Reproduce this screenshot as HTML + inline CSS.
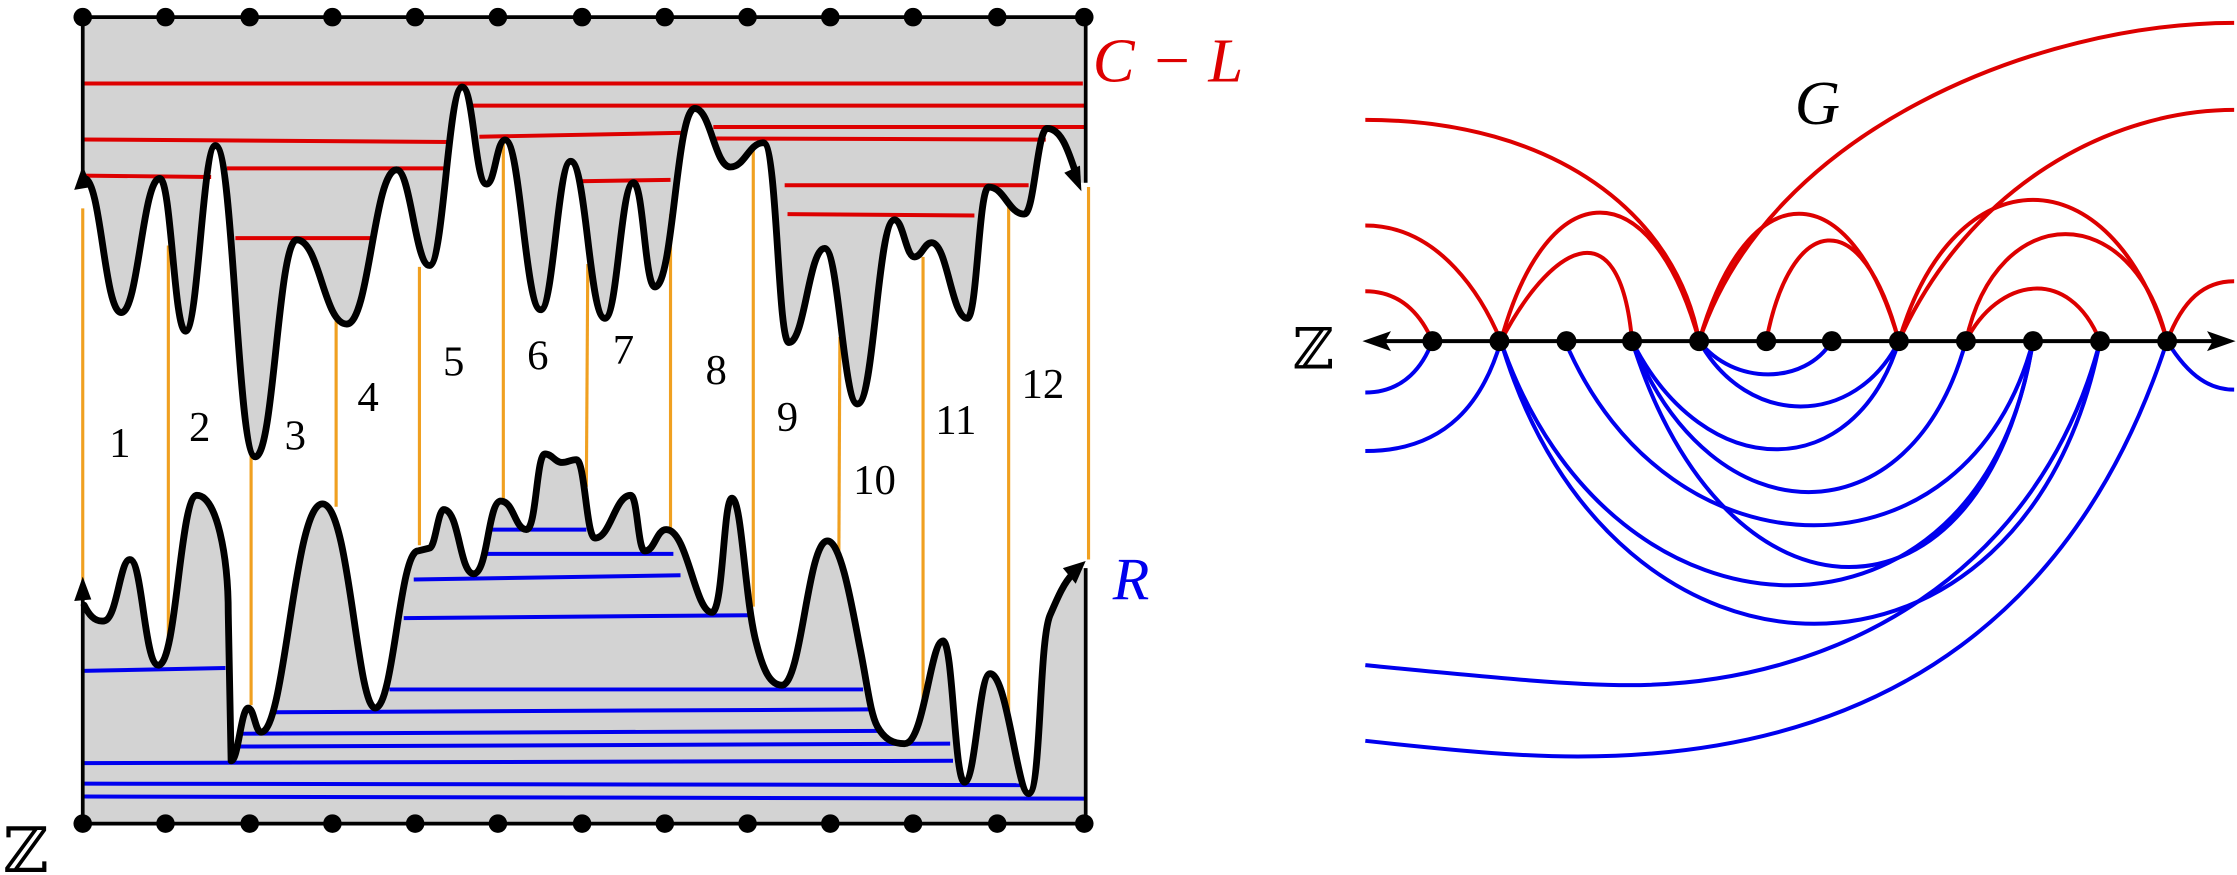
<!DOCTYPE html>
<html><head><meta charset="utf-8"><style>html,body{margin:0;padding:0;background:#fff;}svg{display:block}</style></head>
<body>
<svg width="2237" height="875" viewBox="0 0 1568 613" preserveAspectRatio="none" xmlns="http://www.w3.org/2000/svg">
<g fill="#d3d3d3" stroke="none">
<path d="M59,125 C71,125 73,219 85,219 C97,219 100,125 112,125 C120,125 122,232 130,232 C139,232 142,102 151,102 C164,102 166,320 179,320 C192,320 195,168 208,168 C224,168 227,227 243,227 C259,227 262,119 278,119 C288,119 291,186 301,186 C311,186 314,61 324,61 C332,61 333,129 341,129 C347,129 348,98 354,98 C365,98 368,217 379,217 C388,217 391,113 400,113 C411,113 413,223 424,223 C433,223 435,128 444,128 C451,128 452,201 459,201 C472,201 474,76 487,76 C498,76 501,117 512,117 C522,117 525,100 535,100 C545,100 545,240 553,240 C564,240 567,174 578,174 C588,174 591,283 601,283 C613,283 615,154 627,154 C633,154 635,180 641,180 C646,180 648,170 653,170 C664,170 667,223 678,223 C685,223 686,131 693,131 C704,131 707,150 718,150 C725,150 727,90 734,90 C745,90 750,110 757,128 L761,128 L761,12 L58,12 L58,125 Z"/>
<path d="M58,418 C62,430 66,436 73,435 C82,434 84,392 91,392 C100,392 101,466 111,466 C124,466 126,347 138,347 C152,347 160,390 160,430 L162,533 C167,533 169,496 174,496 C178,496 179,513 183,513 C200,513 206,353 226,353 C245,353 250,496 263,496 C276,496 280,386 293,386 L301,384 C305,384 307,357 311,357 C322,357 322,402 332,402 C342,402 342,351 351,351 C360,351 361,371 369,371 C376,371 376,318 382,318 C387,318 389,324 394,324 C398,324 400,322 404,322 C410,322 411,377 417,377 C428,377 431,347 442,347 C447,347 447,386 452,386 C459,386 460,371 467,371 C482,371 487,429 499,429 C507,429 507,349 513,349 C520,349 522,420 530,450 C535,470 540,480 548,480 C562,480 566,379 580,379 C590,379 598,430 603,455 C608,480 610,500 615,509 C620,518 626,521 634,521 C648,521 652,449 661,449 C668,449 669,548 676,548 C684,548 686,472 694,472 C706,472 713,556 721,556 C730,556 728,450 736,431 C742,417 748,405 757,398 L761,398 L761,577 L58,577 Z"/>
</g>
<g stroke="#dd0000" stroke-width="2.8" fill="none">
<line x1="58" y1="58.5" x2="759" y2="58.5"/>
<line x1="331" y1="74" x2="761" y2="74"/>
<line x1="500" y1="89" x2="761" y2="89"/>
<line x1="58" y1="97.7" x2="315" y2="99.5"/>
<line x1="336" y1="95.8" x2="480" y2="93"/>
<line x1="502" y1="97" x2="733" y2="97.8"/>
<line x1="58" y1="123" x2="148" y2="124"/>
<line x1="159" y1="118" x2="311" y2="118"/>
<line x1="406" y1="127" x2="470" y2="126"/>
<line x1="550" y1="129.8" x2="721" y2="129.8"/>
<line x1="165" y1="166.8" x2="263" y2="166.8"/>
<line x1="552" y1="150" x2="683" y2="151"/>
</g>
<g stroke="#0000ee" stroke-width="2.8" fill="none">
<line x1="58" y1="470" x2="158" y2="468"/>
<line x1="345" y1="371" x2="411" y2="371"/>
<line x1="340" y1="388" x2="472" y2="388"/>
<line x1="290" y1="406" x2="477" y2="403"/>
<line x1="283" y1="433" x2="525" y2="431"/>
<line x1="273" y1="483" x2="605" y2="483"/>
<line x1="193" y1="499" x2="611" y2="497"/>
<line x1="170" y1="514" x2="619" y2="512"/>
<line x1="168" y1="523" x2="666" y2="521"/>
<line x1="58" y1="534.6" x2="668" y2="533"/>
<line x1="58" y1="549" x2="716" y2="550"/>
<line x1="58" y1="558" x2="761" y2="559.5"/>
</g>
<g stroke="#f0a020" stroke-width="2.2">
<line x1="58" y1="146" x2="58" y2="408"/>
<line x1="118" y1="172" x2="118" y2="458"/>
<line x1="176" y1="318" x2="176" y2="494"/>
<line x1="235.6" y1="224" x2="235.6" y2="355"/>
<line x1="294" y1="187" x2="294" y2="382"/>
<line x1="352.8" y1="98" x2="352.8" y2="351"/>
<line x1="412" y1="185" x2="411" y2="341"/>
<line x1="470" y1="150" x2="470" y2="371"/>
<line x1="528" y1="105" x2="528" y2="425"/>
<line x1="588.7" y1="236" x2="588" y2="388"/>
<line x1="647" y1="180" x2="647" y2="494"/>
<line x1="707" y1="143" x2="707" y2="501"/>
<line x1="763" y1="131" x2="763" y2="392"/>
</g>
<g stroke="#000" stroke-width="2.6">
<line x1="58" y1="12" x2="761" y2="12"/>
<line x1="58" y1="577" x2="761" y2="577"/>
<line x1="58" y1="12" x2="58" y2="125"/>
<line x1="58" y1="418" x2="58" y2="577"/>
<line x1="761" y1="12" x2="761" y2="128"/>
<line x1="761" y1="398" x2="761" y2="577"/>
</g>
<g stroke="#000" stroke-width="4.8" fill="none" stroke-linecap="round" stroke-linejoin="round">
<path d="M59,125 C71,125 73,219 85,219 C97,219 100,125 112,125 C120,125 122,232 130,232 C139,232 142,102 151,102 C164,102 166,320 179,320 C192,320 195,168 208,168 C224,168 227,227 243,227 C259,227 262,119 278,119 C288,119 291,186 301,186 C311,186 314,61 324,61 C332,61 333,129 341,129 C347,129 348,98 354,98 C365,98 368,217 379,217 C388,217 391,113 400,113 C411,113 413,223 424,223 C433,223 435,128 444,128 C451,128 452,201 459,201 C472,201 474,76 487,76 C498,76 501,117 512,117 C522,117 525,100 535,100 C545,100 545,240 553,240 C564,240 567,174 578,174 C588,174 591,283 601,283 C613,283 615,154 627,154 C633,154 635,180 641,180 C646,180 648,170 653,170 C664,170 667,223 678,223 C685,223 686,131 693,131 C704,131 707,150 718,150 C725,150 727,90 734,90 C745,90 750,110 755,124"/>
<path d="M59,424 C62,430 66,436 73,435 C82,434 84,392 91,392 C100,392 101,466 111,466 C124,466 126,347 138,347 C152,347 160,390 160,430 L162,533 C167,533 169,496 174,496 C178,496 179,513 183,513 C200,513 206,353 226,353 C245,353 250,496 263,496 C276,496 280,386 293,386 L301,384 C305,384 307,357 311,357 C322,357 322,402 332,402 C342,402 342,351 351,351 C360,351 361,371 369,371 C376,371 376,318 382,318 C387,318 389,324 394,324 C398,324 400,322 404,322 C410,322 411,377 417,377 C428,377 431,347 442,347 C447,347 447,386 452,386 C459,386 460,371 467,371 C482,371 487,429 499,429 C507,429 507,349 513,349 C520,349 522,420 530,450 C535,470 540,480 548,480 C562,480 566,379 580,379 C590,379 598,430 603,455 C608,480 610,500 615,509 C620,518 626,521 634,521 C648,521 652,449 661,449 C668,449 669,548 676,548 C684,548 686,472 694,472 C706,472 713,556 721,556 C730,556 728,450 736,431 C742,417 746,408 752,402"/>
</g>
<g fill="#000">
<polygon points="58,116 52,133 64,131"/>
<polygon points="758,134 746,121 757,116"/>
<polygon points="58,404 52,421 64,420"/>
<polygon points="761,393 745,398 754,409"/>
<g>
<circle cx="58" cy="12" r="6.5"/><circle cx="116" cy="12" r="6.5"/><circle cx="175" cy="12" r="6.5"/><circle cx="233" cy="12" r="6.5"/><circle cx="291" cy="12" r="6.5"/><circle cx="349" cy="12" r="6.5"/><circle cx="408" cy="12" r="6.5"/><circle cx="466" cy="12" r="6.5"/><circle cx="524" cy="12" r="6.5"/><circle cx="582" cy="12" r="6.5"/><circle cx="640" cy="12" r="6.5"/><circle cx="699" cy="12" r="6.5"/><circle cx="760" cy="12" r="6.5"/>
<circle cx="58" cy="577" r="6.5"/><circle cx="116" cy="577" r="6.5"/><circle cx="175" cy="577" r="6.5"/><circle cx="233" cy="577" r="6.5"/><circle cx="291" cy="577" r="6.5"/><circle cx="349" cy="577" r="6.5"/><circle cx="408" cy="577" r="6.5"/><circle cx="466" cy="577" r="6.5"/><circle cx="524" cy="577" r="6.5"/><circle cx="582" cy="577" r="6.5"/><circle cx="640" cy="577" r="6.5"/><circle cx="699" cy="577" r="6.5"/><circle cx="760" cy="577" r="6.5"/>
</g>
</g>
<g font-family="Liberation Serif, serif" font-size="30" fill="#000" text-anchor="middle">
<text x="84" y="320">1</text><text x="140" y="309">2</text><text x="207" y="315">3</text><text x="258" y="288">4</text><text x="318" y="263">5</text><text x="377" y="259">6</text><text x="437" y="255">7</text><text x="502" y="269">8</text><text x="552" y="302">9</text><text x="613" y="346">10</text><text x="670" y="304">11</text><text x="731" y="279">12</text>
</g>
<text x="766" y="57" font-family="Liberation Serif, serif" font-style="italic" font-size="44" fill="#dd0000">C − L</text>
<text x="780" y="420" font-family="Liberation Serif, serif" font-style="italic" font-size="42" fill="#0000ee">R</text>
<text x="2" y="611" font-family="DejaVu Serif, serif" font-size="44" fill="#000">ℤ</text>

<g fill="none" stroke="#dd0000" stroke-width="2.8">
<path d="M957,84 C1090,84 1175,150 1191,239"/>
<path d="M1191,239 C1240,90 1430,16 1566,16"/>
<path d="M1331,239 C1380,130 1480,77 1566,77"/>
<path d="M957,158 C1010,158 1040,210 1052,239"/>
<path d="M957,204 C985,204 998,225 1004,239"/>
<path d="M1052,239 C1085,119 1158,119 1191,239"/>
<path d="M1052,239 C1085,175 1135,140 1144,239"/>
<path d="M1191,239 C1225,120 1297,120 1331,239"/>
<path d="M1238,239 C1255,150 1305,140 1331,239"/>
<path d="M1331,239 C1370,107 1480,107 1519,239"/>
<path d="M1378,239 C1400,139 1495,139 1519,239"/>
<path d="M1378,239 C1400,195 1450,185 1472,239"/>
<path d="M1519,239 C1530,210 1545,197 1566,197"/>
</g>
<g fill="none" stroke="#0000ee" stroke-width="2.8">
<path d="M957,275 C985,275 998,255 1004,239"/>
<path d="M957,316 C1015,316 1040,280 1052,239"/>
<path d="M1191,239 C1215,270 1265,270 1284,239"/>
<path d="M1191,239 C1225,300 1300,300 1331,239"/>
<path d="M1144,239 C1195,340 1300,340 1331,239"/>
<path d="M1144,239 C1200,380 1340,380 1378,239"/>
<path d="M1097,239 C1170,411 1380,411 1425,239"/>
<path d="M1144,239 C1210,450 1390,450 1425,239"/>
<path d="M1052,239 C1130,467 1390,467 1425,239"/>
<path d="M1052,239 C1130,503 1420,503 1472,239"/>
<path d="M957,466 C1050,475 1100,480 1142,480 C1290,480 1430,400 1472,239"/>
<path d="M957,519 C1030,527 1070,530 1106,530 C1330,530 1460,420 1519,239"/>
<path d="M1519,239 C1535,265 1550,273 1566,273"/>
</g>
<line x1="965" y1="239" x2="1558" y2="239" stroke="#000" stroke-width="2.8"/>
<polygon points="955,239 975,232 971,239 975,246" fill="#000"/>
<polygon points="1567,239 1547,232 1551,239 1547,246" fill="#000"/>
<g fill="#000">
<circle cx="1004" cy="239" r="7"/><circle cx="1051" cy="239" r="7"/><circle cx="1098" cy="239" r="7"/><circle cx="1144" cy="239" r="7"/><circle cx="1191" cy="239" r="7"/><circle cx="1238" cy="239" r="7"/><circle cx="1284" cy="239" r="7"/><circle cx="1331" cy="239" r="7"/><circle cx="1378" cy="239" r="7"/><circle cx="1425" cy="239" r="7"/><circle cx="1472" cy="239" r="7"/><circle cx="1519" cy="239" r="7"/>
</g>
<text x="906" y="258" font-family="DejaVu Serif, serif" font-size="40" fill="#000">ℤ</text>
<text x="1258" y="87" font-family="Liberation Serif, serif" font-style="italic" font-size="44" fill="#000">G</text>
</svg>
</body></html>
